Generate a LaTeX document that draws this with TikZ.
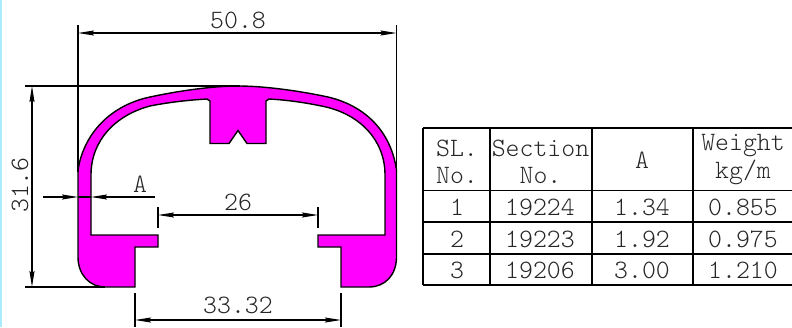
\documentclass[tikz,border=0pt]{standalone}
\usetikzlibrary{arrows.meta}
\definecolor{prof}{RGB}{255,0,255}
\definecolor{strip}{RGB}{170,235,255}
\tikzset{
  x=1pt,y=-1pt,
  lbl/.style={font=\ttfamily\fontseries{l}\fontsize{26.5}{26.5}\selectfont,inner sep=0pt,text=black!85},
  cell/.style={font=\ttfamily\fontseries{l}\fontsize{26.5}{27.5}\selectfont,inner sep=0pt,align=center,text=black!85},
  dimline/.style={line width=1.1pt,{Stealth[length=16pt,width=5pt,inset=2pt]}-{Stealth[length=16pt,width=5pt,inset=2pt]}},
  onearrow/.style={line width=1.1pt,-{Stealth[length=16pt,width=5pt,inset=2pt]}},
  extline/.style={line width=1.1pt},
  gridh/.style={line width=1.5pt},
  outline/.style={line width=1.4pt,fill=prof,line join=miter},
}
\begin{document}
\begin{tikzpicture}
\useasboundingbox (0,0) rectangle (792,327);
\fill[white] (0,0) rectangle (792,327);
\fill[strip] (0,0) rectangle (1.5,327);
% profile
\draw[outline] (78,257) .. controls (78,275) and (90,287) .. (105,287)
  -- (135,287) -- (135,247) -- (158,247) -- (158,235) -- (91,235) -- (91,175)
  .. controls (91,140) and (116,115) .. (150,106)
  .. controls (170,102) and (190,100) .. (207,99) -- (210,101) -- (210,143.5) -- (229,143.5) -- (238,130.5) -- (247,143.5)
  -- (266,143.5) -- (266,101) -- (269,99)
  .. controls (288,100) and (308,103) .. (326,107)
  .. controls (360,115) and (385,140) .. (385,175)
  -- (385,235) -- (318,235) -- (318,247) -- (341,247) -- (341,287) -- (369,287)
  .. controls (385,287) and (396.5,275) .. (396.5,257)
  -- (396.5,170)
  .. controls (391,132) and (366,106) .. (328,97)
  .. controls (300,91) and (265,86) .. (238,86)
  .. controls (212,86) and (178,91) .. (150,97)
  .. controls (112,105) and (84,132) .. (78,170) -- cycle;
% extension lines
\coordinate (wl) at (78,33); \coordinate (wr) at (396.5,33);
\coordinate (wlt) at (78,25); \coordinate (wlb) at (78,172);
\coordinate (wrt) at (396.5,25); \coordinate (wrb) at (396.5,172);
\coordinate (hl) at (25,86); \coordinate (hr) at (240,86);
\coordinate (bl) at (25,287); \coordinate (br) at (105,287);
\coordinate (ht) at (32,86); \coordinate (hb) at (32,287);
\draw[extline] (wlt) -- (wlb);
\draw[extline] (wrt) -- (wrb);
\draw[extline] (hl) -- (hr);
\draw[extline] (bl) -- (br);
\draw[dimline] (wl) -- (wr);
\draw[dimline] (ht) -- (hb);
% A
\coordinate (al) at (43,197); \coordinate (am) at (78,197);
\coordinate (ar) at (155,197); \coordinate (an) at (91,197);
\draw[onearrow] (al) -- (am);
\draw[onearrow] (ar) -- (an);
\draw[extline] (an) -- (am);
% 26
\coordinate (gl) at (158,215); \coordinate (gr) at (318,215);
\coordinate (glt) at (158,207); \coordinate (glb) at (158,228);
\coordinate (grt) at (318,207); \coordinate (grb) at (318,228);
\draw[extline] (glt) -- (glb);
\draw[extline] (grt) -- (grb);
\draw[dimline] (gl) -- (gr);
% 33.32
\coordinate (fl) at (135,320); \coordinate (fr) at (341,320);
\coordinate (flt) at (135,293); \coordinate (flb) at (135,327);
\coordinate (frt) at (341,293); \coordinate (frb) at (341,327);
\draw[extline] (flt) -- (flb);
\draw[extline] (frt) -- (frb);
\draw[dimline] (fl) -- (fr);
% labels
\node[lbl] (t508) at (238,20) {50.8};
\node[lbl,rotate=90] (t316) at (20,185) {31.6};
\node[lbl] (ta) at (140,184) {A};
\node[lbl] (t26) at (238,202) {26};
\node[lbl] (t3332) at (238,305) {33.32};
% table
\draw[gridh] (423,128) -- (792,128);
\draw[gridh] (423,190.5) -- (792,190.5);
\draw[gridh] (423,222) -- (792,222);
\draw[gridh] (423,254) -- (792,254);
\draw[gridh] (423,285) -- (792,285);
\draw[gridh] (423,128) -- (423,285);
\draw[gridh] (490,128) -- (490,285);
\draw[gridh] (592,128) -- (592,285);
\draw[line width=2pt] (693,128) -- (693,285);
\node[cell] (h1) at (457,162) {SL.\\No.};
\node[cell] (h2) at (540.5,162) {Section\\No.};
\node[cell] (h3) at (642,160) {A};
\node[cell] (h4) at (743,159.5) {Weight\\kg/m};
\node[cell] (a1) at (457,207) {1};
\node[cell] (a2) at (540,207) {19224};
\node[cell] (a3) at (642,207) {1.34};
\node[cell] (a4) at (743,207) {0.855};
\node[cell] (b1) at (457,239) {2};
\node[cell] (b2) at (540,239) {19223};
\node[cell] (b3) at (642,239) {1.92};
\node[cell] (b4) at (743,239) {0.975};
\node[cell] (c1) at (457,270) {3};
\node[cell] (c2) at (540,270) {19206};
\node[cell] (c3) at (642,270) {3.00};
\node[cell] (c4) at (743,270) {1.210};
\end{tikzpicture}
\end{document}
